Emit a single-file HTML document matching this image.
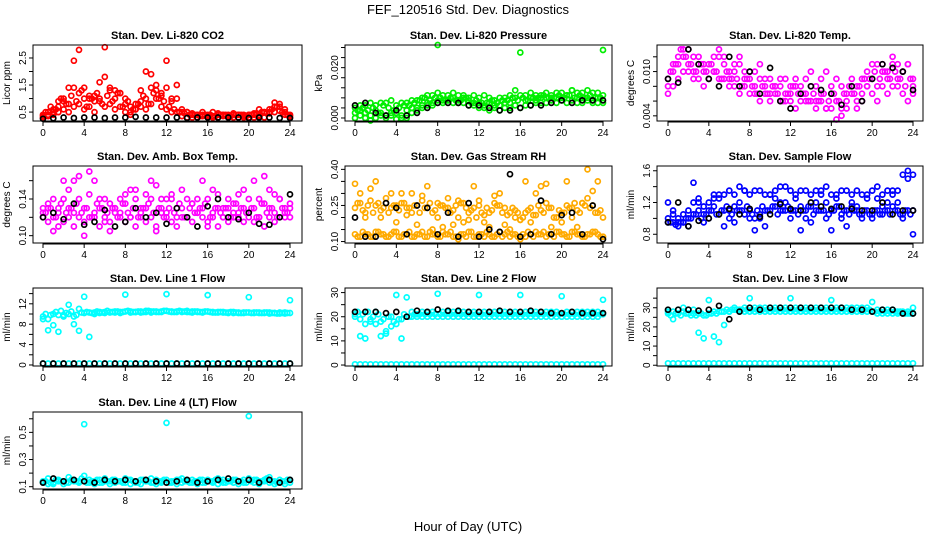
<!DOCTYPE html>
<html><head><meta charset="utf-8"><style>
html,body{margin:0;padding:0;background:#fff;}
svg{display:block;font-family:"Liberation Sans",sans-serif;}
</style></head><body>
<svg id="chart" width="936" height="540" viewBox="0 0 936 540" xmlns="http://www.w3.org/2000/svg">
<text x="468" y="14" text-anchor="middle" font-size="13">FEF_120516  Std. Dev. Diagnostics</text>
<text x="468" y="531" text-anchor="middle" font-size="13">Hour of Day (UTC)</text>
</svg>
<script>
const hoursHalf=[0,0.5,1,1.5,2,2.5,3,3.5,4,4.5,5,5.5,6,6.5,7,7.5,8,8.5,9,9.5,10,10.5,11,11.5,12,12.5,13,13.5,14,14.5,15,15.5,16,16.5,17,17.5,18,18.5,19,19.5,20,20.5,21,21.5,22,22.5,23,23.5,24];
const hoursQuarter=[0.25,0.75,1.25,1.75,2.25,2.75,3.25,3.75,4.25,4.75,5.25,5.75,6.25,6.75,7.25,7.75,8.25,8.75,9.25,9.75,10.25,10.75,11.25,11.75,12.25,12.75,13.25,13.75,14.25,14.75,15.25,15.75,16.25,16.75,17.25,17.75,18.25,18.75,19.25,19.75,20.25,20.75,21.25,21.75,22.25,22.75,23.25,23.75];
const hoursWhole=[0,1,2,3,4,5,6,7,8,9,10,11,12,13,14,15,16,17,18,19,20,21,22,23,24];
const xTicks=[0,4,8,12,16,20,24];

const co2A=[0.4,0.5,0.6,0.9,1.0,0.8,1.4,1.2,1.0,1.1,0.9,1.6,1.8,1.3,1.0,1.2,0.8,0.5,0.6,0.9,1.0,1.9,1.5,1.2,1.4,0.9,1.0,0.5,0.5,0.45,0.4,0.5,0.4,0.35,0.4,0.4,0.35,0.4,0.4,0.35,0.4,0.45,0.4,0.5,0.6,0.85,0.7,0.6,0.4];
const co2B=[0.3,0.35,0.4,0.5,0.6,0.5,0.7,0.8,0.6,0.7,0.5,0.9,0.7,0.8,0.6,0.7,0.5,0.4,0.6,0.7,0.6,0.8,1.0,0.7,0.6,0.5,0.5,0.35,0.3,0.3,0.3,0.35,0.3,0.3,0.3,0.35,0.3,0.3,0.3,0.3,0.3,0.3,0.35,0.3,0.45,0.5,0.55,0.4,0.3];
const co2C=[0.35,0.4,0.5,0.7,0.9,1.4,2.4,2.8,1.4,1.0,1.1,1.0,2.9,1.4,1.3,1.2,1.0,0.7,0.8,1.3,2.0,1.4,1.3,1.1,2.4,1.0,1.5,0.6,0.5,0.4,0.4,0.4,0.35,0.5,0.45,0.4,0.4,0.45,0.4,0.4,0.4,0.4,0.6,0.5,0.5,0.7,0.8,0.5,0.35];
const co2D=[0.5,0.7,0.6,1.0,0.8,1.1,0.9,1.3,0.7,1.0,1.2,0.8,1.1,0.9,1.2,0.7,0.9,0.6,0.8,1.1,0.8,1.2,1.0,0.9,0.7,0.6,0.5,0.45,0.4,0.4,0.35,0.4,0.4,0.35,0.4,0.4,0.35,0.4,0.4,0.35,0.4,0.45,0.5,0.45,0.6,0.7,0.5,0.4];
const co2K=[0.25,0.27,0.3,0.28,0.3,0.3,0.28,0.3,0.3,0.32,0.3,0.3,0.3,0.3,0.28,0.3,0.3,0.3,0.3,0.3,0.28,0.3,0.3,0.28,0.28];

const presA=[0.004,0.005,0.005,0.006,0.005,0.006,0.006,0.007,0.005,0.006,0.006,0.007,0.007,0.008,0.009,0.009,0.010,0.009,0.009,0.010,0.009,0.009,0.008,0.009,0.008,0.009,0.008,0.007,0.008,0.008,0.009,0.008,0.009,0.009,0.010,0.009,0.009,0.010,0.009,0.010,0.010,0.009,0.011,0.010,0.010,0.011,0.010,0.010,0.009];
const presB=[0.002,0.003,0.002,0.001,0.003,0.002,0.001,0.002,0.002,0.001,0.003,0.004,0.004,0.005,0.006,0.006,0.007,0.006,0.007,0.006,0.006,0.006,0.005,0.005,0.004,0.004,0.003,0.004,0.003,0.004,0.004,0.005,0.004,0.005,0.005,0.006,0.006,0.006,0.007,0.006,0.007,0.006,0.007,0.006,0.006,0.007,0.006,0.006,0.006];
const presC=[0.0,0.001,0.0,-0.001,0.0,0.001,0.0,0.001,-0.0005,0.0,0.0,0.002,0.003,0.004,0.005,0.005,0.029,0.007,0.007,0.008,0.007,0.008,0.007,0.006,0.006,0.005,0.006,0.005,0.005,0.006,0.006,0.011,0.026,0.007,0.008,0.007,0.008,0.008,0.008,0.008,0.008,0.009,0.011,0.008,0.008,0.008,0.007,0.008,0.027];
const presD=[0.003,0.004,0.003,0.004,0.002,0.005,0.004,0.003,0.004,0.005,0.005,0.006,0.007,0.008,0.007,0.008,0.008,0.007,0.008,0.007,0.007,0.008,0.006,0.007,0.006,0.006,0.007,0.006,0.007,0.007,0.008,0.007,0.008,0.007,0.008,0.008,0.009,0.008,0.008,0.009,0.008,0.009,0.008,0.009,0.008,0.009,0.008,0.008];
const presK=[0.005,0.006,0.002,0.001,0.003,0.001,0.002,0.004,0.006,0.006,0.006,0.005,0.005,0.004,0.003,0.003,0.004,0.005,0.005,0.006,0.007,0.006,0.007,0.007,0.007];

const ltA=[0.009,0.011,0.012,0.012,0.013,0.012,0.011,0.010,0.011,0.012,0.012,0.011,0.010,0.011,0.011,0.010,0.009,0.010,0.009,0.008,0.009,0.008,0.008,0.009,0.007,0.008,0.008,0.009,0.008,0.008,0.009,0.010,0.008,0.009,0.008,0.007,0.008,0.008,0.009,0.010,0.011,0.011,0.010,0.010,0.011,0.011,0.010,0.011,0.009];
const ltB=[0.007,0.008,0.009,0.010,0.010,0.009,0.009,0.008,0.009,0.010,0.009,0.009,0.008,0.008,0.007,0.008,0.007,0.008,0.006,0.007,0.006,0.007,0.006,0.007,0.006,0.005,0.006,0.007,0.006,0.006,0.007,0.005,0.005,0.006,0.005,0.006,0.007,0.006,0.007,0.008,0.007,0.008,0.008,0.007,0.008,0.009,0.007,0.006,0.008];
const ltC=[0.008,0.010,0.011,0.013,0.011,0.010,0.012,0.011,0.009,0.010,0.013,0.012,0.009,0.010,0.012,0.009,0.010,0.007,0.011,0.009,0.007,0.008,0.009,0.006,0.008,0.009,0.007,0.006,0.010,0.005,0.006,0.005,0.007,0.0035,0.004,0.005,0.009,0.005,0.006,0.008,0.009,0.006,0.011,0.009,0.012,0.008,0.010,0.011,0.007];
const ltD=[0.010,0.011,0.013,0.012,0.011,0.010,0.011,0.010,0.011,0.010,0.009,0.010,0.009,0.009,0.008,0.009,0.008,0.007,0.008,0.007,0.008,0.007,0.006,0.007,0.008,0.007,0.007,0.006,0.007,0.006,0.007,0.006,0.007,0.006,0.007,0.008,0.007,0.008,0.009,0.009,0.010,0.009,0.010,0.009,0.010,0.009,0.008,0.009];
const ltK=[0.009,0.0085,0.013,0.011,0.009,0.008,0.012,0.008,0.010,0.007,0.0105,0.006,0.005,0.007,0.008,0.0075,0.007,0.0055,0.008,0.006,0.009,0.011,0.0105,0.010,0.0075];

const abA=[0.13,0.135,0.14,0.13,0.14,0.15,0.16,0.14,0.13,0.145,0.16,0.14,0.14,0.135,0.13,0.14,0.145,0.15,0.14,0.13,0.145,0.14,0.155,0.14,0.14,0.145,0.13,0.15,0.14,0.135,0.14,0.13,0.14,0.15,0.145,0.13,0.14,0.135,0.145,0.15,0.14,0.16,0.14,0.135,0.15,0.145,0.14,0.13,0.13];
const abB=[0.12,0.115,0.12,0.11,0.115,0.12,0.11,0.12,0.115,0.12,0.12,0.11,0.12,0.115,0.125,0.12,0.115,0.12,0.11,0.12,0.115,0.12,0.11,0.125,0.12,0.115,0.11,0.12,0.12,0.115,0.125,0.12,0.115,0.12,0.11,0.12,0.115,0.12,0.125,0.115,0.12,0.115,0.12,0.11,0.12,0.115,0.12,0.125,0.12];
const abC=[0.125,0.13,0.105,0.125,0.16,0.13,0.125,0.165,0.1,0.17,0.125,0.13,0.115,0.105,0.13,0.125,0.135,0.12,0.15,0.125,0.13,0.16,0.105,0.13,0.125,0.14,0.12,0.13,0.12,0.135,0.125,0.16,0.11,0.125,0.13,0.12,0.13,0.125,0.12,0.13,0.125,0.13,0.12,0.165,0.13,0.125,0.14,0.12,0.135];
const abD=[0.125,0.13,0.12,0.135,0.125,0.13,0.135,0.125,0.13,0.12,0.135,0.13,0.125,0.13,0.12,0.135,0.125,0.13,0.12,0.13,0.135,0.125,0.13,0.12,0.13,0.125,0.135,0.12,0.13,0.125,0.13,0.135,0.12,0.13,0.125,0.13,0.12,0.135,0.13,0.125,0.13,0.12,0.135,0.125,0.13,0.12,0.13,0.125];
const abK=[0.12,0.125,0.118,0.135,0.112,0.115,0.128,0.11,0.115,0.13,0.12,0.125,0.113,0.13,0.12,0.11,0.132,0.14,0.12,0.118,0.125,0.113,0.112,0.12,0.145];

const rhA=[0.13,0.12,0.13,0.12,0.14,0.13,0.12,0.13,0.14,0.12,0.13,0.12,0.13,0.14,0.12,0.13,0.12,0.14,0.13,0.12,0.11,0.13,0.14,0.12,0.13,0.12,0.13,0.12,0.14,0.13,0.12,0.13,0.11,0.12,0.13,0.14,0.13,0.12,0.13,0.14,0.13,0.12,0.14,0.13,0.12,0.13,0.14,0.13,0.12];
const rhB=[0.24,0.26,0.22,0.27,0.25,0.23,0.26,0.24,0.25,0.26,0.24,0.22,0.25,0.27,0.24,0.22,0.26,0.25,0.24,0.23,0.27,0.26,0.22,0.24,0.25,0.21,0.22,0.26,0.25,0.24,0.22,0.23,0.19,0.22,0.24,0.21,0.23,0.26,0.24,0.2,0.22,0.25,0.24,0.23,0.26,0.28,0.25,0.22,0.2];
const rhC=[0.34,0.3,0.2,0.32,0.35,0.2,0.28,0.3,0.18,0.3,0.21,0.3,0.17,0.29,0.33,0.15,0.2,0.16,0.28,0.17,0.2,0.18,0.19,0.33,0.27,0.18,0.16,0.29,0.3,0.17,0.15,0.2,0.19,0.35,0.18,0.3,0.33,0.34,0.16,0.2,0.18,0.35,0.2,0.16,0.26,0.4,0.31,0.35,0.12];
const rhD=[0.12,0.14,0.13,0.12,0.14,0.13,0.12,0.14,0.12,0.13,0.14,0.12,0.13,0.12,0.14,0.13,0.12,0.13,0.14,0.12,0.13,0.12,0.14,0.12,0.13,0.14,0.12,0.13,0.12,0.14,0.13,0.12,0.13,0.14,0.12,0.13,0.14,0.13,0.12,0.14,0.13,0.12,0.14,0.13,0.12,0.13,0.14,0.12];
const rhE=[0.26,0.23,0.25,0.22,0.26,0.24,0.22,0.25,0.23,0.26,0.24,0.25,0.22,0.24,0.26,0.23,0.25,0.24,0.22,0.25,0.26,0.24,0.23,0.2,0.22,0.24,0.23,0.25,0.22,0.21,0.24,0.22,0.2,0.23,0.21,0.25,0.22,0.24,0.2,0.23,0.22,0.24,0.26,0.22,0.25,0.24,0.22,0.23];
const rhK=[0.2,0.12,0.12,0.26,0.24,0.13,0.25,0.24,0.13,0.22,0.12,0.26,0.12,0.15,0.14,0.38,0.12,0.13,0.27,0.13,0.21,0.22,0.13,0.25,0.11];

const sfA=[1.0,0.95,0.95,0.95,1.0,1.05,1.1,1.05,1.1,1.15,1.05,1.1,1.1,1.15,1.1,1.05,1.1,1.0,1.05,1.1,1.1,1.15,1.1,1.2,1.1,1.1,1.15,1.1,1.15,1.1,1.1,1.2,1.1,1.15,1.05,1.1,1.15,1.1,1.05,1.1,1.0,1.1,1.05,1.1,1.15,1.1,1.05,1.1,1.1];
const sfB=[1.2,1.1,1.0,1.05,1.1,1.2,1.25,1.15,1.2,1.3,1.25,1.3,1.35,1.3,1.4,1.35,1.3,1.35,1.35,1.3,1.3,1.35,1.4,1.4,1.35,1.3,1.35,1.35,1.3,1.35,1.3,1.4,1.3,1.3,1.35,1.35,1.3,1.35,1.3,1.3,1.35,1.4,1.3,1.35,1.3,1.35,1.55,1.6,1.55];
const sfC=[0.95,1.05,0.9,0.95,0.9,1.45,1.2,0.95,1.0,1.25,1.3,0.9,1.0,0.95,1.2,1.35,1.0,0.85,1.0,0.9,1.3,1.25,1.2,1.1,1.0,1.25,0.85,1.0,0.95,1.2,1.35,1.0,0.85,1.25,1.0,0.9,1.2,1.15,1.0,1.25,1.05,1.25,1.15,1.2,1.35,1.2,1.0,1.5,0.8];
const sfD=[0.95,0.92,0.95,1.0,1.0,1.05,1.0,1.05,1.1,1.05,1.1,1.15,1.05,1.1,1.1,1.15,1.05,1.1,1.15,1.1,1.15,1.05,1.1,1.15,1.1,1.05,1.1,1.15,1.05,1.1,1.1,1.05,1.1,1.15,1.1,1.05,1.1,1.05,1.1,1.05,1.1,1.05,1.1,1.05,1.1,1.05,1.1,1.05];
const sfK=[0.95,1.2,0.9,0.97,1.0,1.05,1.12,1.05,1.12,1.02,1.05,1.18,1.12,1.1,1.2,1.15,1.12,1.15,1.12,1.1,1.1,1.2,1.05,1.1,1.1];

const l1A=[9.5,9.0,10.0,9.8,9.5,10.0,9.5,11.0,10.2,10.3,10.3,10.4,10.4,10.4,10.5,10.4,10.5,10.5,10.4,10.5,10.6,10.5,10.5,10.5,10.6,10.5,10.5,10.5,10.6,10.5,10.5,10.4,10.5,10.4,10.4,10.4,10.3,10.4,10.3,10.3,10.3,10.3,10.3,10.3,10.3,10.2,10.3,10.3,10.2];
const l1B=[9.0,6.8,7.8,6.5,9.8,11.8,8.0,6.7,13.4,5.5,10.0,10.2,10.2,10.3,10.3,10.2,13.8,10.3,10.4,10.3,10.4,10.3,10.4,10.4,13.9,10.4,10.4,10.4,10.4,10.3,10.4,10.3,13.7,10.3,10.3,10.3,10.2,10.2,10.2,10.2,13.3,10.2,10.2,10.2,10.1,10.2,10.1,10.1,12.7];
const l1C=[0.3,0.3,0.3,0.3,0.3,0.3,0.3,0.3,0.3,0.3,0.3,0.3,0.3,0.3,0.3,0.3,0.3,0.3,0.3,0.3,0.3,0.3,0.3,0.3,0.3,0.3,0.3,0.3,0.3,0.3,0.3,0.3,0.3,0.3,0.3,0.3,0.3,0.3,0.3,0.3,0.3,0.3,0.3,0.3,0.3,0.3,0.3,0.3,0.3];
const l1D=[10.0,9.8,10.4,10.6,10.2,10.5,9.8,10.3,10.4,10.2,10.5,10.3,10.6,10.4,10.5,10.4,10.6,10.4,10.5,10.4,10.6,10.5,10.4,10.6,10.5,10.4,10.6,10.5,10.4,10.5,10.4,10.5,10.4,10.3,10.4,10.3,10.4,10.3,10.2,10.3,10.2,10.3,10.2,10.3,10.2,10.1,10.2,10.2];
const l1K=[0.3,0.3,0.3,0.3,0.3,0.3,0.3,0.3,0.3,0.3,0.3,0.3,0.3,0.3,0.3,0.3,0.3,0.3,0.3,0.3,0.3,0.3,0.3,0.3,0.3];

const l2A=[21,19,17,19,17,18,13,16,17,19,20,20,20,20,20,20,20,20,20,20,20,20,20,20,20,20,20,20,20,20,20,20,20,20,20,20,20,20,20,20,20,20,20,20,20,20,20,20,21];
const l2B=[20,12,11,18,22,12,14,20,29,11,28,22,21,22,22,22,29.5,22,22,22,22,22,22,22,29,22,22,22,22,22,22,22,29,22,22,22,22,22,22,22,28.5,22,22,22,22,22,22,22,27];
const l2C=[0.3,0.3,0.3,0.3,0.3,0.3,0.3,0.3,0.3,0.3,0.3,0.3,0.3,0.3,0.3,0.3,0.3,0.3,0.3,0.3,0.3,0.3,0.3,0.3,0.3,0.3,0.3,0.3,0.3,0.3,0.3,0.3,0.3,0.3,0.3,0.3,0.3,0.3,0.3,0.3,0.3,0.3,0.3,0.3,0.3,0.3,0.3,0.3,0.3];
const l2D=[22,21,22,20,21,19,20,18,19,21,20,21,21,21,21,21,21,21,21,21,21,21,21,21,21,21,21,21,21,21,21,21,21,21,21,21,21,21,21,21,21,21,21,21,21,21,21,21];
const l2K=[22,22,22,21.5,22,20,22.5,22,23,22.5,22.5,22,22,22,22.5,22,22,22.5,22,21.5,21.5,22,21.5,21.5,21.5];

const l3A=[27,28,27,28,27,27,27,26,27,28,28,28,28,29,28,28,28,28,28,28,28,28,28,28,28,28,28,28,28,28,28,28,28,28,28,28,28,28,28,28,28,27,27,27,27,27,27,27,27];
const l3B=[28,24,29,30,29,29,17,14,34,15,12,21,28,30,29,30,35,30,30,30,30,30,30,30,35,30,30,30,30,30,30,30,34,30,30,30,30,30,30,30,33,29,29,29,29,28,28,28,30];
const l3C=[1,1,1,1,1,1,1,1,1,1,1,1,1,1,1,1,1,1,1,1,1,1,1,1,1,1,1,1,1,1,1,1,1,1,1,1,1,1,1,1,1,1,1,1,1,1,1,1,1];
const l3D=[26,27,26,27,26,26,27,26,27,27,28,29,29,29,29,29,29,29,29,29,29,29,29,29,29,29,29,29,29,29,29,29,29,29,29,29,29,29,29,29,28,28,28,28,28,28,27,27];
const l3K=[29,29,29,28.5,29,31,24,28,30,29,30,30,30,30,30,30,30,30,29,29,28,29,29,27,27];

const l4A=[0.14,0.16,0.12,0.15,0.14,0.17,0.15,0.14,0.18,0.15,0.14,0.15,0.16,0.14,0.15,0.14,0.16,0.15,0.14,0.15,0.14,0.16,0.15,0.14,0.15,0.14,0.15,0.16,0.14,0.15,0.14,0.15,0.15,0.14,0.16,0.15,0.14,0.15,0.14,0.15,0.16,0.15,0.14,0.15,0.17,0.14,0.15,0.14,0.15];
const l4B=[0.13,0.12,0.13,0.14,0.12,0.13,0.14,0.13,0.56,0.13,0.12,0.13,0.14,0.12,0.13,0.14,0.13,0.12,0.13,0.12,0.14,0.13,0.12,0.13,0.57,0.13,0.12,0.13,0.14,0.13,0.12,0.13,0.14,0.13,0.12,0.13,0.14,0.13,0.12,0.13,0.62,0.13,0.12,0.14,0.13,0.12,0.13,0.12,0.13];
const l4D=[0.14,0.13,0.15,0.14,0.13,0.15,0.14,0.16,0.13,0.14,0.15,0.13,0.14,0.15,0.14,0.13,0.15,0.14,0.13,0.15,0.14,0.13,0.14,0.15,0.13,0.14,0.15,0.14,0.13,0.14,0.15,0.13,0.14,0.15,0.14,0.13,0.14,0.15,0.14,0.13,0.14,0.15,0.14,0.16,0.14,0.13,0.14,0.15];
const l4K=[0.13,0.16,0.14,0.15,0.14,0.13,0.15,0.14,0.15,0.14,0.15,0.14,0.13,0.14,0.15,0.13,0.14,0.15,0.16,0.14,0.15,0.13,0.15,0.13,0.15];

const panels=[
 {name:'co2',title:'Stan. Dev. Li-820 CO2',ylab:'Licor ppm',col:0,row:0,ymin:0.17,ymax:2.98,ticks:[0.5,1,1.5,2,2.5],labels:[0.5,1.5,2.5],lf:v=>v.toFixed(1),color:'#ff0000',series:[co2A,co2B,co2C,co2D],black:co2K},
 {name:'pressure',title:'Stan. Dev. Li-820 Pressure',ylab:'kPa',col:1,row:0,ymin:-0.0012,ymax:0.029,ticks:[0,0.004,0.008,0.012,0.016,0.02,0.024,0.028],labels:[0,0.02],lf:v=>v.toFixed(3),color:'#00ee00',series:[presA,presB,presC,presD],black:presK},
 {name:'li820-temp',title:'Stan. Dev. Li-820 Temp.',ylab:'degrees C',col:2,row:0,ymin:0.0033,ymax:0.0136,ticks:[0.004,0.006,0.008,0.010,0.012],labels:[0.004,0.010],lf:v=>v.toFixed(3),color:'#ff00ff',series:[ltA,ltB,ltC,ltD],black:ltK},
 {name:'amb-box-temp',title:'Stan. Dev. Amb. Box Temp.',ylab:'degrees C',col:0,row:1,ymin:0.092,ymax:0.176,ticks:[0.10,0.12,0.14,0.16],labels:[0.10,0.14],lf:v=>v.toFixed(2),color:'#ff00ff',series:[abA,abB,abC,abD],black:abK},
 {name:'gas-rh',title:'Stan. Dev. Gas Stream RH',ylab:'percent',col:1,row:1,ymin:0.094,ymax:0.414,ticks:[0.10,0.15,0.20,0.25,0.30,0.35,0.40],labels:[0.10,0.25,0.40],lf:v=>v.toFixed(2),color:'#ffaa00',series:[rhA,rhB,rhC,rhD,rhE],black:rhK},
 {name:'sample-flow',title:'Stan. Dev. Sample Flow',ylab:'ml/min',col:2,row:1,ymin:0.69,ymax:1.66,ticks:[0.8,1.0,1.2,1.4,1.6],labels:[0.8,1.2,1.6],lf:v=>v.toFixed(1),color:'#0000ff',series:[sfA,sfB,sfC,sfD],black:sfK},
 {name:'line1-flow',title:'Stan. Dev. Line 1 Flow',ylab:'ml/min',col:0,row:2,ymin:-0.2,ymax:15.1,ticks:[0,2,4,6,8,10,12,14],labels:[0,4,8,12],lf:v=>String(v),color:'#00ffff',series:[l1A,l1B,l1C,l1D],black:l1K},
 {name:'line2-flow',title:'Stan. Dev. Line 2 Flow',ylab:'ml/min',col:1,row:2,ymin:-0.4,ymax:31.9,ticks:[0,5,10,15,20,25,30],labels:[0,10,20,30],lf:v=>String(v),color:'#00ffff',series:[l2A,l2B,l2C,l2D],black:l2K},
 {name:'line3-flow',title:'Stan. Dev. Line 3 Flow',ylab:'ml/min',col:2,row:2,ymin:-0.4,ymax:40.3,ticks:[0,5,10,15,20,25,30,35],labels:[0,10,20,30],lf:v=>String(v),color:'#00ffff',series:[l3A,l3B,l3C,l3D],black:l3K},
 {name:'line4-flow',title:'Stan. Dev. Line 4 (LT) Flow',ylab:'ml/min',col:0,row:3,ymin:0.083,ymax:0.65,ticks:[0.1,0.2,0.3,0.4,0.5,0.6],labels:[0.1,0.3,0.5],lf:v=>v.toFixed(1),color:'#00ffff',series:[l4A,l4B,l4D],black:l4K}
];
const boxX=[[33,302],[345,612],[657,923]];
const dataX=[[43,290],[355,603],[668,913]];
const boxY=[[45,121],[166,243],[288,366],[412,489]];
const NS='http://www.w3.org/2000/svg';
const svg=document.getElementById('chart');
function mk(tag,attrs,parent){const e=document.createElementNS(NS,tag);for(const k in attrs)e.setAttribute(k,attrs[k]);parent.appendChild(e);return e;}
panels.forEach(p=>{
  const [bx0,bx1]=boxX[p.col],[dx0,dx1]=dataX[p.col],[by0,by1]=boxY[p.row];
  const xs=h=>dx0+(h/24)*(dx1-dx0);
  const ys=v=>by1-(v-p.ymin)/(p.ymax-p.ymin)*(by1-by0);
  const g=mk('g',{},svg);
  
  
  const t=mk('text',{x:(bx0+bx1)/2,y:by0-6,'text-anchor':'middle','font-size':'11','font-weight':'bold'},g);
  t.textContent=p.title;
  
  
  const yl=mk('text',{x:0,y:0,'text-anchor':'middle','font-size':'10',transform:`translate(${bx0-23},${(by0+by1)/2}) rotate(-90)`},g);
  yl.textContent=p.ylab;
  
  
  const clip=mk('g',{},g);
  
  
  p.series.forEach(s=>{
    const hrs=s.length===48?hoursQuarter:hoursHalf;
    s.forEach((v,i)=>{
      const c=mk('circle',{cx:xs(hrs[i]).toFixed(1),cy:ys(v).toFixed(1),r:2.5,fill:'none',stroke:p.color,'stroke-width':1.7},clip);
      
      
    });
  });
  p.black.forEach((v,i)=>{
    const c=mk('circle',{cx:xs(hoursWhole[i]).toFixed(1),cy:ys(v).toFixed(1),r:2.5,fill:'none',stroke:'#000','stroke-width':1.7},clip);
    
    
  });
  const box=mk('rect',{x:bx0,y:by0,width:bx1-bx0,height:by1-by0,fill:'none',stroke:'#000','stroke-width':1},g);
  
  
  const xa=mk('g',{},g);
  
  
  mk('line',{x1:xs(0),x2:xs(24),y1:by1+1,y2:by1+1,stroke:'#000'},xa);
  xTicks.forEach(h=>{
    mk('line',{x1:xs(h),x2:xs(h),y1:by1,y2:by1+5,stroke:'#000'},xa);
    const tl=mk('text',{x:xs(h),y:by1+15,'text-anchor':'middle','font-size':'10'},xa);
    tl.textContent=h;
  });
  const ya=mk('g',{},g);
  
  
  mk('line',{x1:bx0,x2:bx0,y1:ys(p.ticks[0]),y2:ys(p.ticks[p.ticks.length-1]),stroke:'#000'},ya);
  p.ticks.forEach(v=>{mk('line',{x1:bx0-4,x2:bx0,y1:ys(v),y2:ys(v),stroke:'#000'},ya);});
  p.labels.forEach(v=>{
    const tl=mk('text',{x:0,y:0,'text-anchor':'middle','font-size':'10',transform:`translate(${bx0-7},${ys(v)}) rotate(-90)`},ya);
    tl.textContent=p.lf(v);
  });
});
</script>
</body></html>
